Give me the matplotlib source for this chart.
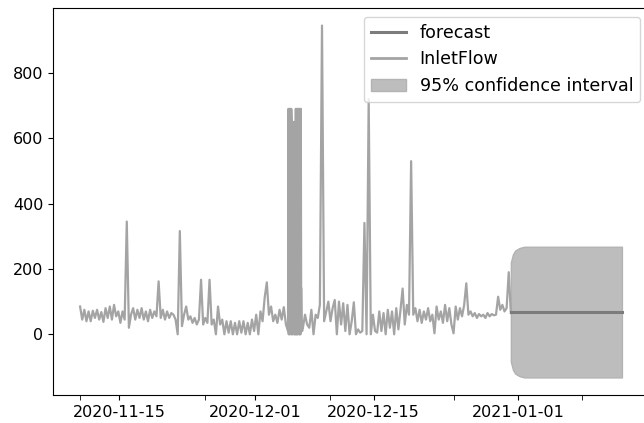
import matplotlib
matplotlib.use("Agg")
import matplotlib.pyplot as plt
import matplotlib.dates as mdates
from matplotlib.lines import Line2D
from matplotlib.patches import Patch
import pandas as pd

# InletFlow part 1: 6-hourly readings from 2020-11-10 10:00 (4 per day)
flow_a_start = "2020-11-10 10:00"
flow_a = [
    85, 45, 75, 40,   70, 40, 72, 50,   75, 45, 68, 38,   80, 50, 85, 45,
    90, 55, 70, 35,   70, 45, 345, 20,  60, 80, 45, 75,   50, 80, 45, 70,
    40, 75, 50, 70,   55, 162, 50, 75,  45, 70, 50, 65,   60, 45, 0, 316,
    25, 60, 85, 45,   55, 35, 50, 30,   45, 167, 30, 50,  35, 167, 30, 45,
    0, 85, 30, 45,    0, 40, 5, 40,     0, 35, 0, 40,     5, 40, 0, 35,
    0, 45, 10, 60,    0, 70, 40, 113,   159, 60, 85, 40,  60, 35, 75, 45,
    83, 30, 10,
]
# part 2: hourly readings around the 690 plateau
flow_b_start = "2020-12-04 23:00"
flow_b = [
    690, 0, 690, 0, 690, 20, 690, 0, 690, 650,
    0, 650, 0, 650, 10, 650, 0, 650, 0, 650, 0,
    690, 0, 690, 0, 690, 0, 690, 655, 690, 0, 690, 0, 690, 0, 690,
    145, 140, 30, 10, 40,
]
# part 3: 6-hourly readings from 2020-12-06 16:00
flow_c_start = "2020-12-06 16:00"
flow_c = [
    20, 60, 30,
    20, 75, 0, 60,    50, 90, 945, 40,  70, 100, 40, 80,  105, 0, 100, 30,
    95, 10, 90, 0,    40, 98, 0, 15,    5, 10, 341, 0,    720, 0, 60, 10,
    5, 70, 10, 65,    0, 75, 20, 70,    0, 80, 15, 75,    140, 30, 90, 60,
    530, 60, 80, 40,  75, 35, 70, 45,   80, 40, 60, 3,    85, 45, 70, 35,
    90, 40, 80, 30,   3, 85, 45, 80,    55, 90, 156, 60,  70, 55, 65, 50,
    62, 55, 60, 50,   65, 55, 62, 58,   60, 115, 75, 90,  70, 80, 190, 65,
]

# forecast and its 95% interval
fc_dates = ["2020-12-31 04:00", "2020-12-31 10:00", "2020-12-31 16:00",
            "2021-01-01 04:00", "2021-01-01 18:00", "2021-01-13 06:00"]
fc_mean = [68, 68, 68, 68, 68, 68]
ci_upper = [220, 245, 256, 264, 268, 268]
ci_lower = [-84, -109, -120, -128, -132, -132]

tick_dates = ["2020-11-15", "2020-12-01", "2020-12-15", "2021-01-01"]
minor_dates = ["2020-11-10 10:00", "2020-11-25 03:00", "2020-12-09 21:00",
               "2020-12-24 12:00", "2021-01-08 12:00"]

inlet = pd.concat([
    pd.Series(flow_a, index=pd.date_range(flow_a_start, periods=len(flow_a), freq="6h")),
    pd.Series(flow_b, index=pd.date_range(flow_b_start, periods=len(flow_b), freq="1h")),
    pd.Series(flow_c, index=pd.date_range(flow_c_start, periods=len(flow_c), freq="6h")),
])
fc_idx = pd.to_datetime(fc_dates)

c_inlet = "#a4a4a4"
c_fc = "#7c7c7c"
c_ci = "#bdbdbd"

fig = plt.figure(figsize=(6.44, 4.23), dpi=100)
ax = fig.add_axes([53 / 644, 28 / 423, 596 / 644, 387 / 423])

ax.plot(inlet.index, inlet.values, color=c_inlet, lw=1.6)
ax.fill_between(fc_idx, ci_lower, ci_upper, facecolor=c_ci, edgecolor="#b3b3b3", lw=1)
ax.plot(fc_idx, fc_mean, color=c_fc, lw=2.2)

ax.set_xticks(pd.to_datetime(tick_dates))
ax.set_xticks(pd.to_datetime(minor_dates), minor=True)
ax.xaxis.set_major_formatter(mdates.DateFormatter("%Y-%m-%d"))
ax.tick_params(axis="x", which="minor", length=3.5)
ax.tick_params(labelsize=11.5)
ax.set_yticks([0, 200, 400, 600, 800])

handles = [Line2D([], [], color=c_fc, lw=2.2),
           Line2D([], [], color=c_inlet, lw=2),
           Patch(facecolor=c_ci, edgecolor="#b3b3b3")]
ax.legend(handles, ["forecast", "InletFlow", "95% confidence interval"],
          loc="upper right", fontsize=12.6)

fig.savefig("out.png", dpi=100)
